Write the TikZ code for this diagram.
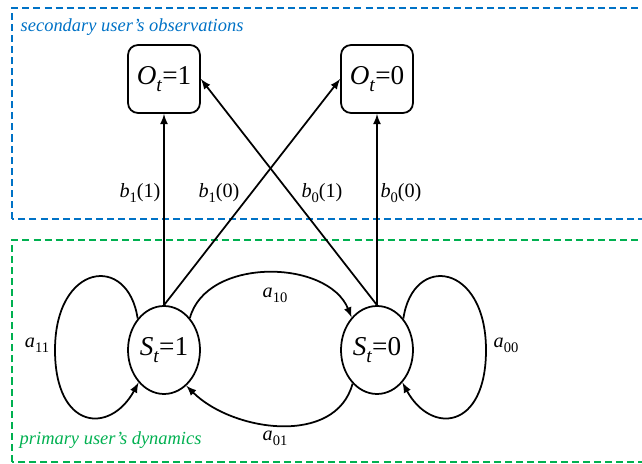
\documentclass[tikz,border=0pt]{standalone}
\usepackage{fontspec}
\setmainfont{Liberation Serif}
\usepackage{xcolor}
\usepackage{graphicx}
\usetikzlibrary{arrows}
\usetikzlibrary{shapes}
\definecolor{obsblue}{RGB}{0,114,198}
\definecolor{dyngreen}{RGB}{0,176,80}
\newcommand{\lowidx}[1]{\raisebox{-0.55ex}{\scalebox{0.72}{#1}}}

\begin{document}
\begin{tikzpicture}[x=0.02cm, y=0.02cm, >=latex, line width=1pt,
    obsbox/.style={draw, rounded corners=0.2cm, minimum width=1.44cm, minimum height=1.36cm, font=\fontsize{15.5}{17}\selectfont},
    state/.style={draw, ellipse, minimum width=1.44cm, minimum height=1.76cm, inner sep=0pt, font=\fontsize{15.5}{17}\selectfont},
    prob/.style={font=\fontsize{11.5}{13}\selectfont},
    region/.style={dashed, dash pattern=on 4pt off 2.3pt, line width=0.9pt}]
        \clip (0,0) rectangle (642,463);

        % Draw the two dashed regions
        \draw[region, obsblue] (12,244) rectangle (660,455);
        \draw[region, dyngreen] (12,1) rectangle (660,223);
        \node[anchor=west, obsblue, font=\fontsize{10.5}{12}\selectfont\itshape] (obstitle) at (14,436) {secondary user’s observations};
        \node[anchor=west, dyngreen, font=\fontsize{10.5}{12}\selectfont\itshape] (dyntitle) at (13,23) {primary user’s dynamics};

        % Observation boxes and states
        \node[obsbox] (o1) at (164,384) {\textit{O}\lowidx{\textit{t}}=1};
        \node[obsbox] (o0) at (377,384) {\textit{O}\lowidx{\textit{t}}=0};
        \node[state] (s1) at (164,113) {\textit{S}\lowidx{\textit{t}}=1};
        \node[state] (s0) at (377,113) {\textit{S}\lowidx{\textit{t}}=0};

        % Emission arrows
        \draw[->] (s1.north) -- (o1.south);
        \draw[->] (s1.north) -- (o0.west);
        \draw[->] (s0.north) -- (o1.east);
        \draw[->] (s0.north) -- (o0.south);
        \node[prob] (b11) at (140,270) {\textit{b}\lowidx{1}(1)};
        \node[prob] (b10) at (219,270) {\textit{b}\lowidx{1}(0)};
        \node[prob] (b01) at (322,270) {\textit{b}\lowidx{0}(1)};
        \node[prob] (b00) at (401,270) {\textit{b}\lowidx{0}(0)};

        % Transitions between the states
        \draw[->] (s1.51) to[out=75, in=112] (s0.128);
        \draw[->] (s0.234) to[out=-105, in=-45] (s1.302);
        \node[prob] (a10) at (275,168) {\textit{a}\lowidx{10}};
        \node[prob] (a01) at (275,25) {\textit{a}\lowidx{01}};

        % Self loops
        \coordinate (l11) at (55,113);
        \coordinate (l00) at (486,113);
        \draw[->] (s1.130) .. controls (128,210) and (55,200) .. (l11) .. controls (55,33) and (110,28) .. (s1.232);
        \draw[->] (s0.50) .. controls (413,210) and (486,200) .. (l00) .. controls (486,33) and (431,28) .. (s0.-52);
        \node[prob] (a11) at (37,118) {\textit{a}\lowidx{11}};
        \node[prob] (a00) at (506,118) {\textit{a}\lowidx{00}};
    \end{tikzpicture}
\end{document}
